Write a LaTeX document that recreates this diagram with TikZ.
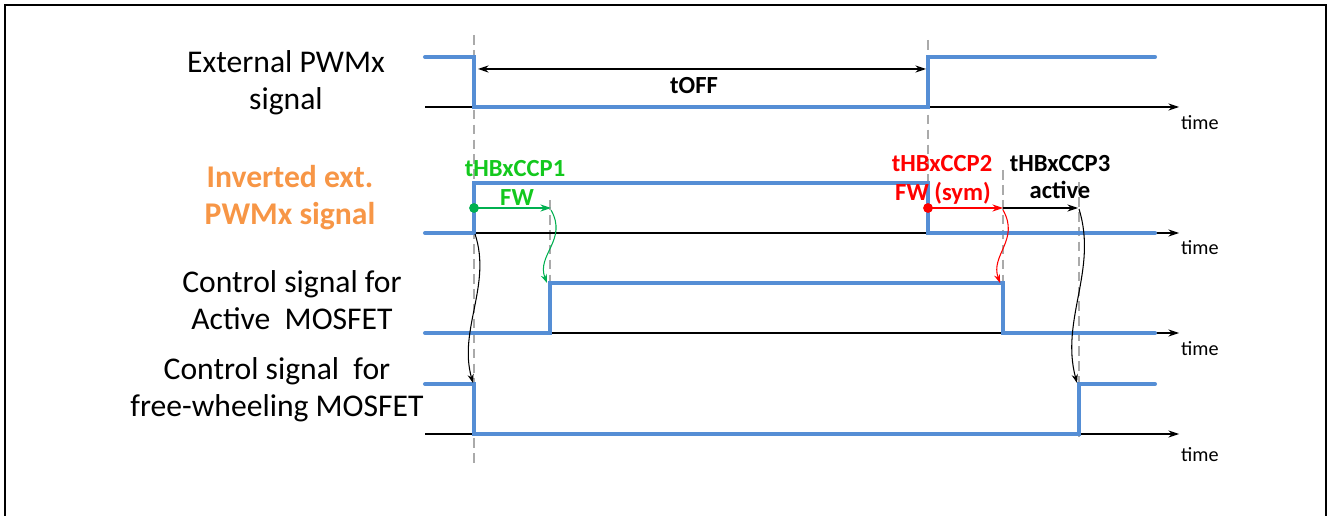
\documentclass[tikz,border=0pt]{standalone}
\usepackage{fontspec}
\setmainfont{Carlito}
\usetikzlibrary{arrows.meta}
\definecolor{sigblue}{RGB}{85,142,213}
\definecolor{lblorange}{RGB}{247,150,70}
\definecolor{fwgreen}{RGB}{0,176,80}
\definecolor{taggreen}{RGB}{20,200,30}
\definecolor{guidegray}{RGB}{170,170,170}
\begin{document}
\begin{tikzpicture}[
    x=0.02cm, y=-0.02cm,
    >={Stealth[length=6pt,width=4pt]},
    sig/.style={line width=2.3pt, draw=sigblue, line cap=round},
    axis/.style={->, line width=0.7pt},
    guide/.style={draw=guidegray, line width=1.1pt, dash pattern=on 5.5pt off 3pt},
    lbl/.style={align=center, font=\fontsize{18}{21}\selectfont},
    tag/.style={font=\fontsize{14}{17}\selectfont\bfseries},
    tm/.style={anchor=base west, font=\fontsize{11.5}{13}\selectfont},
    span/.style={<->, line width=0.7pt},
    hop/.style={->, line width=0.7pt},
    curvarr/.style={-{Stealth[length=5pt,width=3.5pt]}, line width=0.6pt}
]
    \useasboundingbox (0,0) rectangle (1331,516);
    \draw[line width=0.9pt] (5,5) rectangle (1326,540);

    \draw[guide] (474,35) -- (474,466);
    \draw[guide] (928,40) -- (928,235);
    \draw[guide] (550,200) -- (550,335);
    \draw[guide] (1003,170) -- (1003,335);
    \draw[guide] (1079,182) -- (1079,436);

    \draw[axis] (425,107) -- (1179,107);
    \draw[axis] (425,233) -- (1179,233);
    \draw[axis] (425,333) -- (1179,333);
    \draw[axis] (425,434) -- (1179,434);

    \node[tm] (time1) at (1175,130) {time};
    \node[tm] (time2) at (1175,255) {time};
    \node[tm] (time3) at (1175,356) {time};
    \node[tm] (time4) at (1175,461) {time};

    \draw[sig] (425,57) -- (474,57) -- (474,107) -- (928,107) -- (928,57) -- (1155,57);
    \draw[sig] (425,233) -- (474,233) -- (474,183) -- (928,183) -- (928,233) -- (1155,233);
    \draw[sig] (425,333) -- (550,333) -- (550,283) -- (1003,283) -- (1003,333) -- (1155,333);
    \draw[sig] (425,384) -- (474,384) -- (474,434) -- (1079,434) -- (1079,384) -- (1155,384);

    \node[lbl] (ext) at (286,83) {External PWMx\\signal};
    \node[lbl, text=lblorange, font=\fontsize{18}{21}\selectfont\bfseries] (inv) at (290,198)
        {Inverted ext.\\PWMx signal};
    \node[lbl] (act) at (292,300) {Control signal for\\Active\ \ MOSFET};
    \node[lbl] (fwm) at (277,390) {Control signal\ \ for\\free-wheeling MOSFET};

    \coordinate (off1) at (478,69);
    \coordinate (off2) at (926,69);
    \draw[span] (off1) -- (off2);
    \node[tag] (toff) at (694,86) {tOFF};

    \coordinate (p1) at (474,208);
    \coordinate (p1e) at (551,208);
    \coordinate (p2) at (928,208);
    \coordinate (p2e) at (1003,208);
    \coordinate (p3e) at (1078,208);
    \draw[hop, fwgreen] (p1) -- (p1e);
    \draw[hop, red] (p2) -- (p2e);
    \draw[hop] (p2e) -- (p3e);
    \fill[fwgreen] (p1) circle (2.8pt);
    \fill[red] (p2) circle (2.8pt);

    \node[tag, text=taggreen] (ccp1) at (515,169) {tHBxCCP1};
    \node[tag, text=taggreen] (fw1) at (517,198) {FW};
    \node[tag, text=red] (ccp2) at (942,164) {tHBxCCP2};
    \node[tag, text=red] (fw2) at (943,193) {FW (sym)};
    \node[tag] (ccp3) at (1060,164) {tHBxCCP3};
    \node[tag] (actv) at (1060,190) {active};

    \coordinate (g1) at (551,210);
    \coordinate (g2) at (547,283);
    \coordinate (r1) at (1003,210);
    \coordinate (r2) at (1000,283);
    \coordinate (k1) at (475,234);
    \coordinate (k2) at (473,383);
    \coordinate (m1) at (1079,209);
    \coordinate (m2) at (1077,383);
    \draw[curvarr, fwgreen] (g1) .. controls (568,240) and (536,255) .. (g2);
    \draw[curvarr, red] (r1) .. controls (1020,240) and (990,255) .. (r2);
    \draw[curvarr] (k1) .. controls (492,285) and (458,330) .. (k2);
    \draw[curvarr] (m1) .. controls (1098,270) and (1060,320) .. (m2);
\end{tikzpicture}
\end{document}
